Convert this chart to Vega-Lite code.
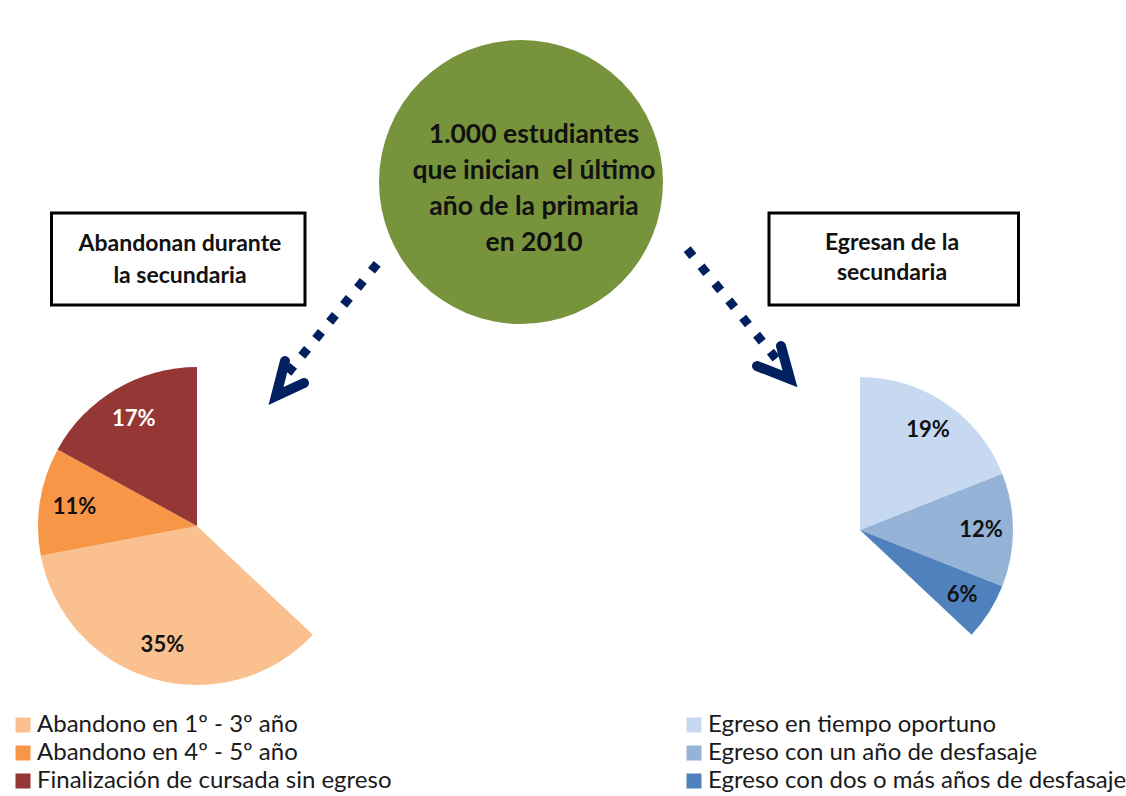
{
  "$schema": "https://vega.github.io/schema/vega-lite/v6.json",
  "width": 1126,
  "height": 796,
  "autosize": {"type": "none"},
  "padding": 0,
  "background": "white",
  "config": {"view": {"stroke": null}, "text": {"font": "Lato"}},
  "layer": [
    {
      "data": {"values": [{}]},
      "mark": {"type": "point", "shape": "circle", "filled": true, "color": "#77933C", "opacity": 1, "size": 80656, "strokeWidth": 0},
      "encoding": {
        "x": {"datum": 521, "type": "quantitative", "scale": {"domain": [0, 1126], "nice": false, "zero": false}, "axis": null},
        "y": {"datum": 182, "type": "quantitative", "scale": {"domain": [0, 796], "nice": false, "zero": false, "reverse": true}, "axis": null}
      }
    },
    {
      "data": {"values": [{}]},
      "mark": {"type": "text", "font": "Lato", "fontWeight": "bold", "fontSize": 26.5, "color": "#111", "align": "center", "baseline": "middle", "lineHeight": 36},
      "encoding": {
        "x": {"datum": 534, "type": "quantitative", "axis": null},
        "y": {"datum": 135, "type": "quantitative", "axis": null},
        "text": {"value": ["1.000 estudiantes", "que inician\u00a0 el último", "año de la primaria", "en 2010"]}
      }
    },
    {
      "data": {"values": [{}]},
      "mark": {"type": "rect", "fill": "white", "stroke": "black", "strokeWidth": 3},
      "encoding": {
        "x": {"datum": 51.5, "type": "quantitative", "axis": null},
        "x2": {"datum": 305},
        "y": {"datum": 213, "type": "quantitative", "axis": null},
        "y2": {"datum": 305}
      }
    },
    {
      "data": {"values": [{}]},
      "mark": {"type": "text", "font": "Lato", "fontWeight": "bold", "fontSize": 23, "color": "#111", "align": "center", "baseline": "middle", "lineHeight": 32},
      "encoding": {
        "x": {"datum": 180, "type": "quantitative", "axis": null},
        "y": {"datum": 244, "type": "quantitative", "axis": null},
        "text": {"value": ["Abandonan durante", "la secundaria"]}
      }
    },
    {
      "data": {"values": [{}]},
      "mark": {"type": "rect", "fill": "white", "stroke": "black", "strokeWidth": 3},
      "encoding": {
        "x": {"datum": 769, "type": "quantitative", "axis": null},
        "x2": {"datum": 1018.5},
        "y": {"datum": 213, "type": "quantitative", "axis": null},
        "y2": {"datum": 305}
      }
    },
    {
      "data": {"values": [{}]},
      "mark": {"type": "text", "font": "Lato", "fontWeight": "bold", "fontSize": 23, "color": "#111", "align": "center", "baseline": "middle", "lineHeight": 30},
      "encoding": {
        "x": {"datum": 892, "type": "quantitative", "axis": null},
        "y": {"datum": 243, "type": "quantitative", "axis": null},
        "text": {"value": ["Egresan de la", "secundaria"]}
      }
    },
    {
      "data": {"values": [{}]},
      "mark": {"type": "rule", "color": "#002060", "strokeWidth": 9, "strokeDash": [9, 13], "strokeCap": "butt"},
      "encoding": {
        "x": {"datum": 377.2, "type": "quantitative", "axis": null},
        "y": {"datum": 263.8, "type": "quantitative", "axis": null},
        "x2": {"datum": 287.9},
        "y2": {"datum": 372.8}
      }
    },
    {
      "data": {"values": [{}]},
      "mark": {"type": "rule", "color": "#002060", "strokeWidth": 9, "strokeDash": [9, 13], "strokeCap": "butt"},
      "encoding": {
        "x": {"datum": 687.2, "type": "quantitative", "axis": null},
        "y": {"datum": 249.2, "type": "quantitative", "axis": null},
        "x2": {"datum": 776.8},
        "y2": {"datum": 359.5}
      }
    },
    {
      "data": {"values": [{}]},
      "mark": {"type": "point", "shape": "M0.225,-0.875L0,0L0.7,-0.325", "filled": false, "stroke": "#002060", "strokeWidth": 10, "strokeJoin": "miter", "strokeCap": "round", "opacity": 1, "size": 6400},
      "encoding": {
        "x": {"datum": 276, "type": "quantitative", "axis": null},
        "y": {"datum": 396, "type": "quantitative", "axis": null}
      }
    },
    {
      "data": {"values": [{}]},
      "mark": {"type": "point", "shape": "M-0.225,-0.825L0,0L-0.825,-0.325", "filled": false, "stroke": "#002060", "strokeWidth": 10, "strokeJoin": "miter", "strokeCap": "round", "opacity": 1, "size": 6400},
      "encoding": {
        "x": {"datum": 790, "type": "quantitative", "axis": null},
        "y": {"datum": 379, "type": "quantitative", "axis": null}
      }
    },
    {
      "data": {"values": [
        {"categoria": "Abandono en 1º - 3º año", "porcentaje": 0.35, "orden": 1},
        {"categoria": "Abandono en 4º - 5º año", "porcentaje": 0.11, "orden": 2},
        {"categoria": "Finalización de cursada sin egreso", "porcentaje": 0.17, "orden": 3}
      ]},
      "encoding": {
        "x": {"datum": 197, "type": "quantitative", "axis": null},
        "y": {"datum": 526, "type": "quantitative", "axis": null},
        "theta": {"field": "porcentaje", "type": "quantitative", "stack": true, "scale": {"domain": [0, 1], "range": [2.324779, 8.607964]}},
        "order": {"field": "orden", "type": "quantitative"}
      },
      "layer": [
        {
          "mark": {"type": "arc", "outerRadius": 159, "stroke": null},
          "encoding": {
            "color": {
              "field": "categoria", "type": "nominal",
              "scale": {"domain": ["Abandono en 1º - 3º año", "Abandono en 4º - 5º año", "Finalización de cursada sin egreso"], "range": ["#FAC090", "#F79646", "#953735"]},
              "legend": {"orient": "none", "legendX": 11, "legendY": 713, "title": null, "symbolType": "square", "symbolSize": 225, "symbolStrokeWidth": 0, "symbolOpacity": 1, "labelFont": "Lato", "labelFontSize": 24, "labelColor": "#1a1a1a", "labelOffset": 2, "rowPadding": 4, "padding": 0, "labelLimit": 0}
            }
          }
        },
        {
          "mark": {"type": "text", "radius": 124, "font": "Lato", "fontWeight": "bold", "fontSize": 22, "align": "center", "baseline": "middle"},
          "encoding": {
            "detail": {"field": "categoria", "type": "nominal"},
            "text": {"field": "porcentaje", "type": "quantitative", "format": ".0%"},
            "color": {"condition": {"test": "datum.categoria === 'Finalización de cursada sin egreso'", "value": "white"}, "value": "#111"}
          }
        }
      ]
    },
    {
      "data": {"values": [
        {"categoria": "Egreso en tiempo oportuno", "porcentaje": 0.19, "orden": 1},
        {"categoria": "Egreso con un año de desfasaje", "porcentaje": 0.12, "orden": 2},
        {"categoria": "Egreso con dos o más años de desfasaje", "porcentaje": 0.06, "orden": 3}
      ]},
      "encoding": {
        "x": {"datum": 860, "type": "quantitative", "axis": null},
        "y": {"datum": 530, "type": "quantitative", "axis": null},
        "theta": {"field": "porcentaje", "type": "quantitative", "stack": true, "scale": {"domain": [0, 1], "range": [0, 6.283185]}},
        "order": {"field": "orden", "type": "quantitative"}
      },
      "layer": [
        {
          "mark": {"type": "arc", "outerRadius": 153, "stroke": null},
          "encoding": {
            "color": {
              "field": "categoria", "type": "nominal",
              "scale": {"domain": ["Egreso en tiempo oportuno", "Egreso con un año de desfasaje", "Egreso con dos o más años de desfasaje"], "range": ["#C6D9F1", "#95B3D7", "#4F81BD"]},
              "legend": {"orient": "none", "legendX": 682, "legendY": 713, "title": null, "symbolType": "square", "symbolSize": 225, "symbolStrokeWidth": 0, "symbolOpacity": 1, "labelFont": "Lato", "labelFontSize": 24, "labelColor": "#1a1a1a", "labelOffset": 2, "rowPadding": 4, "padding": 0, "labelLimit": 0}
            }
          }
        },
        {
          "mark": {"type": "text", "radius": 121, "font": "Lato", "fontWeight": "bold", "fontSize": 22, "align": "center", "baseline": "middle"},
          "encoding": {
            "detail": {"field": "categoria", "type": "nominal"},
            "text": {"field": "porcentaje", "type": "quantitative", "format": ".0%"},
            "color": {"value": "#111"}
          }
        }
      ]
    }
  ],
  "resolve": {"scale": {"theta": "independent", "color": "independent"}}
}
